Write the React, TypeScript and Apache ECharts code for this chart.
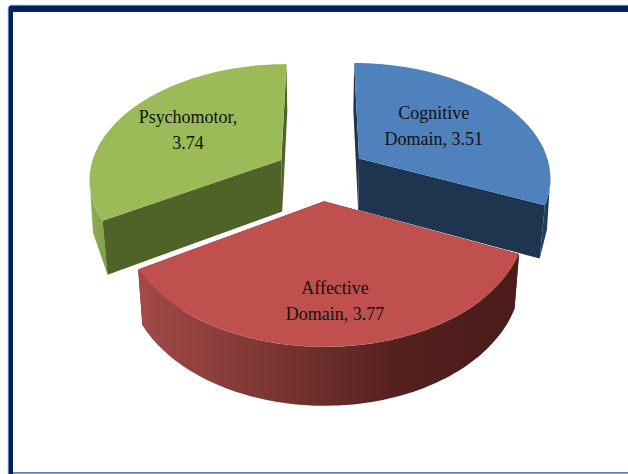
import React, { useEffect, useRef } from "react";
import * as echarts from "echarts";

const categories = ["Cognitive\nDomain, 3.51", "Affective\nDomain, 3.77", "Psychomotor,\n3.74"];
const values = [3.51, 3.77, 3.74];
const topColors = ["#4f81bd", "#c0504d", "#9bbb59"];
const faceColors = ["#1f344f", "#4c1d1b", "#4f6228"];
const wallStops = [
  ["#22406a", "#1f3a5c"],
  ["#a34a47", "#7c3734", "#55211f", "#491b19"],
  ["#8cae50", "#80a046"],
];
const drawOrder = [0, 2, 1];

const CX = 321, CY = 173, AX = 192, BY = 114, K = 0.151, EXPLODE = 0.24;
const THICK = 52, THICK_SLOPE = 30, SHRINK = 0.977, WIDE_RATIO = 1.008;
// The picture's perspective widens the front slice slightly (degrees at each slice's start / end).
const edgeNudge = [
  { start: 0, end: -1 },
  { start: -1, end: 1.5 },
  { start: 1.5, end: 0 },
];
const labelSpot = [
  { r: 0.53, shift: -4 },
  { r: 0.715, shift: 0 },
  { r: 0.6, shift: 0 },
];

const total = values.reduce((a, b) => a + b, 0);
const rad = (d: number) => (d * Math.PI) / 180;

function project(u: number, v: number, lower = false): number[] {
  const s = 1 / (1 - K * v);
  const x = CX + AX * u * s * (lower ? SHRINK : 1);
  const y = CY + BY * v * s + (lower ? THICK + THICK_SLOPE * (s - 1) : 0);
  return [x, y];
}

function widestIndex(arc: number[][]): number {
  let wide = 0;
  arc.forEach((p, n) => {
    if (Math.abs(p[0] - CX) > Math.abs(arc[wide][0] - CX)) wide = n;
  });
  return wide;
}

function renderItem(_params: any, api: any) {
  const i = api.value(0) as number;
  let from = 0;
  for (let k = 0; k < i; k++) from += (values[k] / total) * 360;
  const to = from + (values[i] / total) * 360;
  const mid = (from + to) / 2;
  const start = from + edgeNudge[i].start;
  const end = to + edgeNudge[i].end;
  const frontSlice = from < 180 && to > 180;
  const ou = EXPLODE * Math.sin(rad(mid));
  const ov = -EXPLODE * Math.cos(rad(mid));
  const disc = (deg: number, r = 1): [number, number] => [
    ou + r * Math.sin(rad(deg)),
    ov - r * Math.cos(rad(deg)),
  ];
  const arcDeg: number[] = [];
  for (let k = 0; k <= 90; k++) arcDeg.push(start + ((end - start) * k) / 90);
  const topArc = arcDeg.map((d) => project(...disc(d)));
  const lowArc = arcDeg.map((d) => project(...disc(d), true));

  let wallPoints: number[][];
  if (frontSlice) {
    wallPoints = [...topArc, ...lowArc.slice().reverse()];
  } else {
    // On the two rear slices only the stretch from the widest point to the front corner shows,
    // and its lower edge runs straight.
    const corner = lowArc[0][1] > lowArc[90][1] ? 0 : 90;
    const topWide = widestIndex(topArc);
    const low = lowArc[widestIndex(lowArc)];
    const lowWide = [CX + (low[0] - CX) * WIDE_RATIO, low[1]];
    const lo = Math.min(topWide, corner);
    const hi = Math.max(topWide, corner);
    const stretch = topArc.slice(lo, hi + 1);
    const fromWide = corner > topWide ? stretch : stretch.slice().reverse();
    wallPoints = [...fromWide, lowArc[corner], lowWide];
  }

  const apexTop = project(ou, ov);
  const apexLow = project(ou, ov, true);

  const radial = (deg: number) => ({
    type: "polygon",
    z2: frontSlice ? 0 : 2,
    shape: { points: [apexTop, project(...disc(deg)), project(...disc(deg), true), apexLow] },
    style: { fill: faceColors[i] },
  });
  const stops = wallStops[i];
  const wallFill = new echarts.graphic.LinearGradient(
    0, 0, 1, 0,
    stops.map((color, n) => ({ offset: n / (stops.length - 1), color }))
  );
  const spot = labelSpot[i];
  const [lu, lv] = disc(mid + spot.shift, spot.r);
  const [lx, ly] = project(lu, lv);

  return {
    type: "group",
    children: [
      radial(start),
      radial(end),
      {
        type: "polygon",
        z2: 1,
        shape: { points: wallPoints },
        style: { fill: wallFill },
      },
      {
        type: "polygon",
        z2: 3,
        shape: { points: [apexTop, ...topArc] },
        style: { fill: topColors[i] },
      },
      {
        type: "text",
        z2: 4,
        x: lx,
        y: ly,
        scaleY: 1.08,
        style: {
          text: categories[i],
          x: 0,
          y: 0,
          align: "center",
          verticalAlign: "middle",
          fontFamily: "'Liberation Serif', serif",
          fontSize: 18,
          lineHeight: 24,
          fill: "#111111",
        },
      },
    ],
  };
}

export default function App() {
  const ref = useRef<HTMLDivElement>(null);
  useEffect(() => {
    const chart = echarts.init(ref.current!, undefined, { renderer: "svg" });
    chart.setOption({
      animation: false,
      backgroundColor: "#ffffff",
      graphic: [
        { type: "rect", z: 0, shape: { x: 7.5, y: 4.5, width: 640, height: 500, r: 4 }, style: { fill: "#c9d3e8" } },
        { type: "rect", z: 0, shape: { x: 8.5, y: 5.5, width: 640, height: 500, r: 3 }, style: { fill: "#002060" } },
        { type: "rect", z: 0, shape: { x: 13, y: 12, width: 640, height: 460 }, style: { fill: "#ffffff" } },
        { type: "rect", z: 0, shape: { x: 13, y: 472, width: 615, height: 1.5 }, style: { fill: "#5f7eaa" } },
        { type: "rect", z: 0, shape: { x: 13, y: 473.5, width: 615, height: 1 }, style: { fill: "#ffffff" } },
      ],
      series: [
        {
          type: "custom",
          coordinateSystem: "none",
          silent: true,
          renderItem,
          data: drawOrder.map((i) => [i]),
          z: 5,
        },
      ],
    });
    return () => chart.dispose();
  }, []);
  return <div ref={ref} style={{ position: "absolute", left: 0, top: 0, width: 628, height: 474 }} />;
}
